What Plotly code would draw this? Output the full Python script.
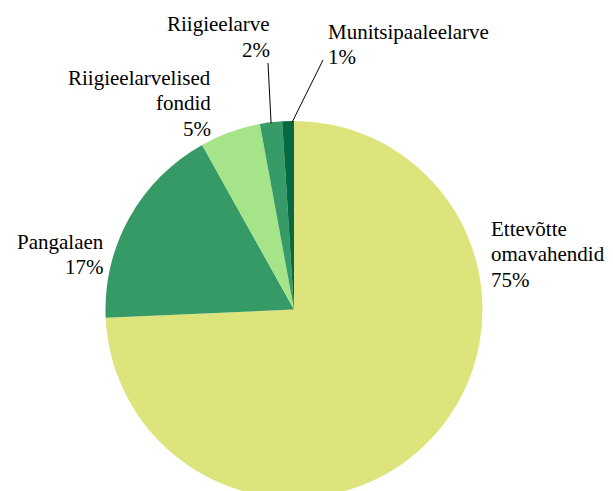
import math
import plotly.graph_objects as go

# ---- data ----
categories = [["Ettevõtte", "omavahendid"], ["Pangalaen"], ["Riigieelarvelised", "fondid"],
              ["Riigieelarve"], ["Munitsipaaleelarve"]]
shares = [74.3, 17.6, 5.2, 1.9, 1.0]
pct_labels = ["75%", "17%", "5%", "2%", "1%"]
colors = ["#DEE47C", "#369A66", "#A6E48A", "#379B67", "#07693F"]

W, H = 613, 510          # figure is taller than the window so the pie's bottom is cut off
CX, CY, R = 294, 309.5, 188.5
FS = 21
LINE = 25.5

def px(x):
    return x / W

def py(y):
    return 1 - y / H

fig = go.Figure(go.Pie(
    labels=[" ".join(c) for c in categories],
    values=shares,
    marker=dict(colors=colors, line=dict(width=0)),
    sort=False,
    direction="clockwise",
    rotation=0,
    textinfo="none",
    hoverinfo="label+percent",
    domain=dict(x=[px(CX - R), px(CX + R)], y=[py(CY + R), py(CY - R)]),
    showlegend=False,
))

font = dict(family="Liberation Serif", size=FS, color="black")

# label placement: (x, first baseline y, anchor)
label_pos = [
    (490, 236, "left"),
    (105, 249, "right"),
    (212, 85, "right"),
    (271, 31.5, "right"),
    (327, 39, "left"),
]
annotations = []
for cat, p, (x, y0, anc) in zip(categories, pct_labels, label_pos):
    for k, line in enumerate(cat + [p]):
        base = y0 + k * LINE
        annotations.append(dict(
            text=line, x=px(x), y=py(base - 0.338 * FS), xref="paper", yref="paper",
            xanchor=anc, yanchor="middle", showarrow=False, font=font, borderpad=0,
        ))

# leader lines for the two smallest slices, starting on the slice edge
total = sum(shares)
cum = [sum(shares[:i]) for i in range(len(shares))]
leader_ends = {3: (268, 63), 4: (323, 60)}
leader_frac = {3: 0.5, 4: 0.85}
shapes = []
for i, (ex, ey) in leader_ends.items():
    frac = (cum[i] + leader_frac[i] * shares[i]) / total
    ang = 2 * math.pi * frac
    sx = CX + (R - 1) * math.sin(ang)
    sy = CY - (R - 1) * math.cos(ang)
    shapes.append(dict(type="line", xref="paper", yref="paper",
                       x0=px(sx), y0=py(sy), x1=px(ex), y1=py(ey),
                       line=dict(color="black", width=1)))

fig.update_layout(
    width=W, height=H,
    margin=dict(l=0, r=0, t=0, b=0),
    paper_bgcolor="white", plot_bgcolor="white",
    annotations=annotations, shapes=shapes,
)

fig.write_html("out.html", config={"displayModeBar": False}, post_script=(
    "document.documentElement.style.overflow='hidden';"
    "document.body.style.overflow='hidden';document.body.style.margin='0';"
))
